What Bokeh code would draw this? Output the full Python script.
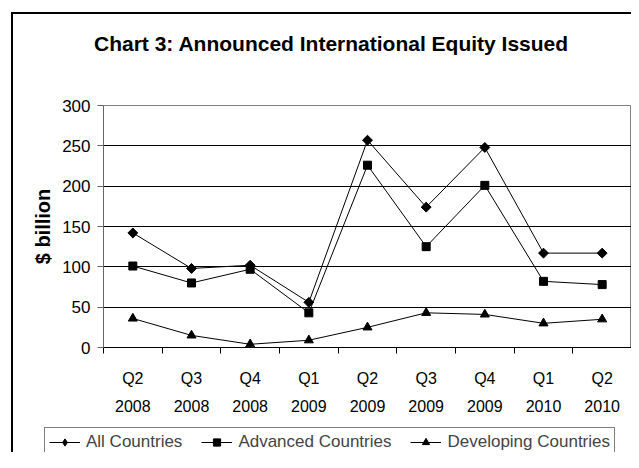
import math
from bokeh.plotting import figure
from bokeh.layouts import column
from bokeh.models import FixedTicker, Legend, LegendItem, Range1d, Title
from bokeh.embed import file_html
from bokeh.resources import INLINE

quarters = ["Q2\n2008", "Q3\n2008", "Q4\n2008", "Q1\n2009", "Q2\n2009",
            "Q3\n2009", "Q4\n2009", "Q1\n2010", "Q2\n2010"]
all_countries = [142, 98, 102, 56, 257, 174, 248, 117, 117]
advanced = [101, 80, 97, 43, 226, 125, 201, 82, 78]
developing = [36, 15, 4, 9, 25, 43, 41, 30, 35]
y_ticks = [0, 50, 100, 150, 200, 250, 300]
series_names = ["All Countries", "Advanced Countries", "Developing Countries"]
title_text = "Chart 3: Announced International Equity Issued"
y_title = "$ billion"

FONT = "Liberation Sans"
W = 631
H_MAIN = 426
H_LEG = 26

p = figure(width=W, height=H_MAIN, output_backend="svg", toolbar_location=None,
           x_range=Range1d(0, len(quarters)), y_range=Range1d(y_ticks[0], y_ticks[-1]),
           min_border_left=103, min_border_right=0, min_border_top=105,
           min_border_bottom=H_MAIN - 347)
p.background_fill_color = "white"
p.border_fill_alpha = 0
p.outline_line_color = "#808080"
p.outline_line_width = 1

xpos = [i + 0.5 for i in range(len(quarters))]

# x axis
xa = p.xaxis[0]
xa.ticker = FixedTicker(ticks=xpos, minor_ticks=list(range(len(quarters) + 1)))
xa.major_label_overrides = {x: q for x, q in zip(xpos, quarters)}
xa.major_tick_out = 0
xa.major_tick_in = 0
xa.minor_tick_out = 6
xa.minor_tick_in = 0
xa.minor_tick_line_color = "black"
xa.axis_line_color = "black"
xa.major_label_text_font = FONT
xa.major_label_text_font_size = "16px"
xa.major_label_text_color = "black"
xa.major_label_text_line_height = 1.7
xa.major_label_standoff = 16

# y axis
ya = p.yaxis[0]
ya.ticker = FixedTicker(ticks=y_ticks)
ya.major_tick_out = 6
ya.major_tick_in = 0
ya.minor_tick_out = 0
ya.minor_tick_in = 0
ya.axis_line_color = "#666666"
ya.major_tick_line_color = "#666666"
ya.major_label_text_font = FONT
ya.major_label_text_font_size = "17px"
ya.major_label_text_color = "black"
ya.major_label_standoff = 7
ya.axis_label = y_title
ya.axis_label_text_font = FONT
ya.axis_label_text_font_style = "bold"
ya.axis_label_text_font_size = "20px"
ya.axis_label_text_color = "black"
ya.axis_label_standoff = 5

p.xgrid.visible = False
p.ygrid.ticker = FixedTicker(ticks=y_ticks[1:-1])
p.ygrid.grid_line_color = "black"
p.ygrid.grid_line_width = 1

# (values, marker, size, angle) for the plot; legend markers drawn unrotated
styles = [
    (all_countries, "square", 7, math.pi / 4),
    (advanced, "square", 8, 0.0),
    (developing, "triangle", 9, 0.0),
]
legend_markers = [("diamond", 11), ("square", 8), ("triangle", 9)]

for vals, mk, sz, ang in styles:
    p.line(xpos, vals, line_color="black", line_width=1)
    p.scatter(xpos, vals, marker=mk, size=sz, angle=ang, color="black")

# spacer between the frame and the title (closest to the frame)
spacer = Title(text=" ", text_font_size="42px", standoff=0, text_color="white")
p.add_layout(spacer, "above")
main_title = Title(text=title_text, align="left", offset=-9.5, vertical_align="bottom",
                   standoff=4, text_font=FONT, text_font_size="21px",
                   text_font_style="bold", text_color="black")
p.add_layout(main_title, "above")

# legend strip: a frame-only figure holding the legend (proxy renderers are out of view)
q = figure(width=W, height=H_LEG, output_backend="svg", toolbar_location=None,
           x_axis_type=None, y_axis_type=None,
           x_range=Range1d(0, len(quarters)), y_range=Range1d(-1000, -999),
           min_border_left=0, min_border_right=0, min_border_top=0, min_border_bottom=0)
q.outline_line_color = None
q.grid.visible = False
q.background_fill_alpha = 0
q.border_fill_alpha = 0

for fig in (p, q):
    try:
        fig.frame_align = False
    except Exception:
        pass

items = []
for name, (vals, _mk, _sz, _ang), (lmk, lsz) in zip(series_names, styles, legend_markers):
    rl = q.line(xpos, vals, line_color="black", line_width=1)
    rs = q.scatter(xpos, vals, marker=lmk, size=lsz, color="black")
    items.append(LegendItem(label=name, renderers=[rl, rs]))

legend = Legend(items=items, orientation="horizontal", location=(44, -5), margin=0,
                padding=4, spacing=19, glyph_width=31, glyph_height=18,
                label_standoff=6, label_height=18,
                label_text_font=FONT, label_text_font_size="17px",
                border_line_color="black", border_line_width=1,
                background_fill_color="white", background_fill_alpha=1)
q.add_layout(legend)

layout = column(p, q, spacing=0)
layout.styles = {
    "background": "linear-gradient(#000, #000) 11px 12px / 2px 100% no-repeat, "
                  "linear-gradient(#000, #000) 11px 12px / 100% 2px no-repeat, #fff"
}

open("out.html", "w").write(file_html(layout, INLINE))
